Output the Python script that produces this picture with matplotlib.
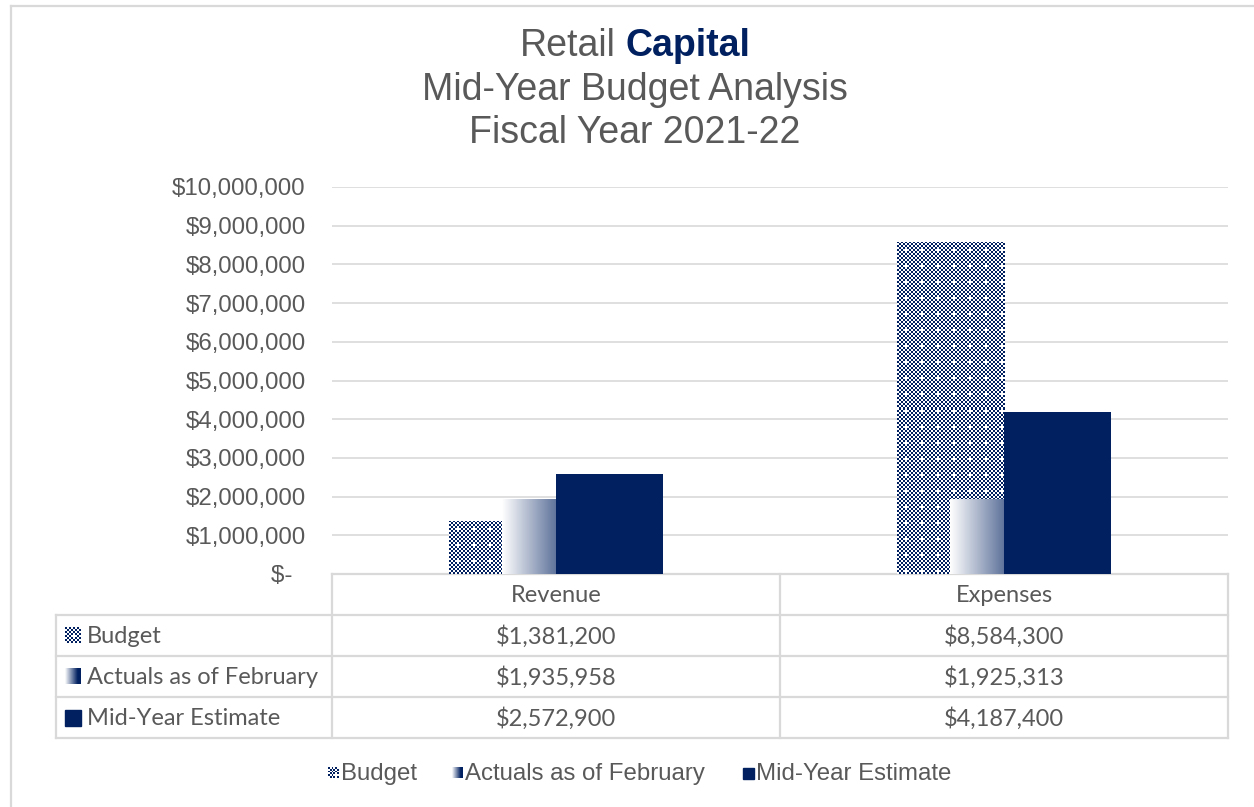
import numpy as np
import matplotlib
matplotlib.use("Agg")
import matplotlib.pyplot as plt
from matplotlib.colors import to_rgb

# data
categories = ["Revenue", "Expenses"]
series_names = ["Budget", "Actuals as of February", "Mid-Year Estimate"]
budget = [1381200, 8584300]
actuals = [1935958, 1925313]
midyear = [2572900, 4187400]
y_ticks = [0, 1000000, 2000000, 3000000, 4000000, 5000000,
           6000000, 7000000, 8000000, 9000000, 10000000]

NAVY = "#002060"
GRID = "#D9D9D9"
TEXT = "#595959"
ARIAL = "Liberation Sans"
CALIBRI = "Lato"

W, H = 1254, 807
# plot area in pixels
PL, PR, PT, PB = 332, 1228, 187, 574
YMAX = 10000000

navy_rgb = np.array(to_rgb(NAVY))


def checker_rgb(nx, ny):
    i, j = np.meshgrid(np.arange(nx), np.arange(ny))
    dark = ((i + j) % 2 == 0) & ~((i % 8 == 4) & (j % 8 == 4))
    img = np.ones((ny, nx, 3))
    img[dark] = navy_rgb
    return img


def gradient_rgb(n=256):
    t = np.clip(np.linspace(0, 1, n) / 0.8, 0, 1)
    img = (1 - t)[:, None] * np.ones(3) + t[:, None] * navy_rgb
    return img[None, :, :]


fig = plt.figure(figsize=(W / 100, H / 100), dpi=100)
fig.patch.set_facecolor("white")

# overlay in pixel coordinates for table, title, legend
ov = fig.add_axes([0, 0, 1, 1], zorder=0)
ov.set_xlim(0, W)
ov.set_ylim(H, 0)
ov.axis("off")

ax = fig.add_axes([PL / W, 1 - PB / H, (PR - PL) / W, (PB - PT) / H], zorder=1)
ax.patch.set_visible(False)

x = np.arange(len(categories))
bw = 0.239
px_per_x = (PR - PL) / 2
px_per_y = (PB - PT) / YMAX

# budget: checker pattern
bars = ax.bar(x - bw / 2, budget, bw, color="none", zorder=2)
for r in bars:
    x0, h = r.get_x(), r.get_height()
    nx = int(round(bw * px_per_x / 2))
    ny = max(1, int(round(h * px_per_y / 2)))
    im = ax.imshow(checker_rgb(nx, ny), extent=(x0, x0 + bw, 0, h), origin="upper",
                   aspect="auto", interpolation="nearest", zorder=2)
    im.set_clip_path(r)

# actuals: horizontal gradient
bars = ax.bar(x, actuals, bw, color="none", zorder=3)
for r in bars:
    x0, h = r.get_x(), r.get_height()
    im = ax.imshow(gradient_rgb(), extent=(x0, x0 + bw, 0, h),
                   aspect="auto", interpolation="bilinear", zorder=3)
    im.set_clip_path(r)

# mid-year estimate: solid
ax.bar(x + bw / 2, midyear, bw, color=NAVY, zorder=4)

ax.set_xlim(-0.5, 1.5)
ax.set_ylim(0, YMAX)
ax.set_yticks(y_ticks)
ax.set_yticklabels(["$-  "] + [f"${v:,.0f}" for v in y_ticks[1:]],
                   fontsize=17.3, color=TEXT, family=ARIAL)
ax.set_xticks([])
ax.tick_params(axis="y", length=0, pad=19)
ax.yaxis.grid(True, color=GRID, linewidth=1.2)
ax.set_axisbelow(True)
for s in ax.spines.values():
    s.set_visible(False)

# data table
lkw = dict(color=GRID, linewidth=1.6, solid_capstyle="projecting")
rows_y = [574, 615, 656, 697, 738]
col_x = [56, 332, 780, 1228]
ov.plot([PL, PR], [rows_y[0], rows_y[0]], **lkw)
for yy in rows_y[1:]:
    ov.plot([col_x[0], col_x[-1]], [yy, yy], **lkw)
for xx in col_x[1:]:
    ov.plot([xx, xx], [rows_y[0], rows_y[-1]], **lkw)
ov.plot([col_x[0], col_x[0]], [rows_y[1], rows_y[-1]], **lkw)

tkw = dict(fontsize=17, color=TEXT, family=CALIBRI, va="center")
col_c = [(col_x[1] + col_x[2]) / 2, (col_x[2] + col_x[3]) / 2]
row_c = [(rows_y[k] + rows_y[k + 1]) / 2 for k in range(4)]
for c, name in enumerate(categories):
    ov.text(col_c[c], row_c[0] + 1.5, name, ha="center", **tkw)
for k, (name, vals) in enumerate(zip(series_names, [budget, actuals, midyear])):
    ov.text(87, row_c[k + 1] + 1, name, ha="left", **tkw)
    for c, v in enumerate(vals):
        ov.text(col_c[c], row_c[k + 1] + 1, f"${v:,.0f}", ha="center", **tkw)


def swatch(kind, x0, yc, size):
    ext = (x0, x0 + size, yc + size / 2, yc - size / 2)
    if kind == 0:
        n = int(round(size / 2))
        ov.imshow(checker_rgb(n, n), extent=ext, aspect="auto", interpolation="nearest")
    elif kind == 1:
        ov.imshow(gradient_rgb(), extent=ext, aspect="auto", interpolation="bilinear")
    else:
        ov.add_patch(plt.Rectangle((x0, yc - size / 2), size, size, color=NAVY))


for k in range(3):
    swatch(k, 65, row_c[k + 1], 16)

# bottom legend
leg_y = 773
leg_sw = [328, 452, 743]
for k, name in enumerate(series_names):
    swatch(k, leg_sw[k], leg_y, 11)
    ov.text(leg_sw[k] + 13, leg_y + 1, name, fontsize=17.3, color=TEXT, family=ARIAL,
            va="center", ha="left")

# title
fig.canvas.draw()
rend = fig.canvas.get_renderer()
cx = 635
TS = 27
t1 = ov.text(0, 46, "Retail", fontsize=TS, color=TEXT, family=ARIAL, va="center")
t2 = ov.text(0, 46, "Capital", fontsize=TS, color=NAVY, family=ARIAL,
             fontweight="bold", va="center")
tmp1 = ov.text(0, 0, "RR", fontsize=TS, family=ARIAL)
tmp2 = ov.text(0, 0, "R R", fontsize=TS, family=ARIAL)
w_sp = tmp2.get_window_extent(rend).width - tmp1.get_window_extent(rend).width
tmp1.remove()
tmp2.remove()
w1 = t1.get_window_extent(rend).width
w2 = t2.get_window_extent(rend).width
start = cx - (w1 + w_sp + w2) / 2
t1.set_x(start)
t2.set_x(start + w1 + w_sp)
ov.text(cx, 90, "Mid-Year Budget Analysis", fontsize=TS, color=TEXT, family=ARIAL,
        ha="center", va="center")
ov.text(cx, 133, "Fiscal Year 2021-22", fontsize=TS, color=TEXT, family=ARIAL,
        ha="center", va="center")

# chart area border (top and left visible)
ov.plot([10.5, 10.5], [5.5, H], color=GRID, linewidth=1.6)
ov.plot([10.5, W], [5.5, 5.5], color=GRID, linewidth=1.6)
ov.set_xlim(0, W)
ov.set_ylim(H, 0)

fig.savefig("out.png", dpi=100)
